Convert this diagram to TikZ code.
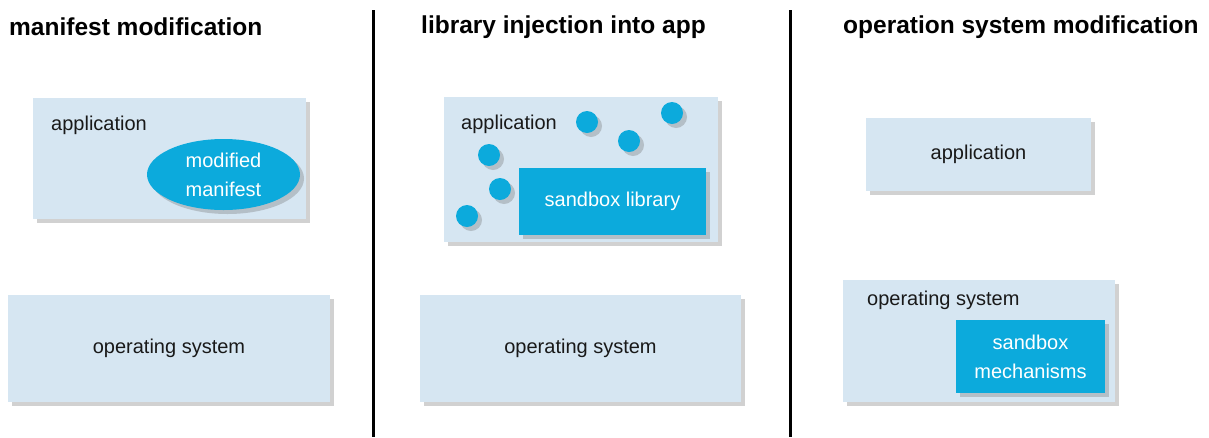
\documentclass[tikz,border=0pt]{standalone}
\usepackage{fontspec}
\setmainfont{Liberation Sans}
\usetikzlibrary{shapes.geometric,shadows}
\definecolor{boxbg}{RGB}{214,230,242}
\definecolor{cyanbox}{RGB}{12,170,220}
\tikzset{
  sh/.style={drop shadow={shadow xshift=4pt,shadow yshift=-4pt,opacity=0.3,fill=black!60}},
  lbox/.style={rectangle,fill=boxbg,draw=none,inner sep=0pt,sh},
  cbox/.style={rectangle,fill=cyanbox,draw=none,inner sep=0pt,text=white,align=center,font=\fontsize{20}{29}\selectfont,sh},
  cell/.style={ellipse,fill=cyanbox,draw=none,inner sep=0pt,text=white,align=center,font=\fontsize{20}{29}\selectfont,sh},
  dot/.style={circle,fill=cyanbox,draw=none,inner sep=0pt,minimum size=22pt,sh},
  txt/.style={font=\fontsize{20}{24}\selectfont,inner sep=0pt,text=black!90},
  ttl/.style={font=\bfseries\fontsize{24.5}{28}\selectfont,inner sep=0pt,anchor=west},
  divider/.style={line width=3pt,black}
}
\begin{document}
\begin{tikzpicture}[x=1pt,y=-1pt]
\useasboundingbox (0,0) rectangle (1209,437);
% titles
\node[ttl] (t1) at (9,27) {manifest modification};
\node[ttl] (t2) at (421,27) {library injection into app};
\node[ttl] (t3) at (843,27) {operation system modification};
% dividers
\draw[divider] (373,10) -- (373,437);
\draw[divider] (790,10) -- (790,437);
% panel 1
\node[lbox,minimum width=273pt,minimum height=121pt] (app1) at (169.5,158.5) {};
\node[txt,anchor=west] (app1t) at (51,125) {application};
\node[cell,minimum width=153pt,minimum height=71pt] (mm) at (223.5,174.5) {modified\\manifest};
\node[lbox,minimum width=322pt,minimum height=107pt] (os1) at (169,348.5) {};
\node[txt] (os1t) at (os1.center) {operating system};
% panel 2
\node[lbox,minimum width=274pt,minimum height=145pt] (app2) at (581,169.5) {};
\node[txt,anchor=west] (app2t) at (461,124) {application};
\node[dot] (d1) at (587,122) {};
\node[dot] (d2) at (672,113) {};
\node[dot] (d3) at (629,141) {};
\node[dot] (d4) at (489,155) {};
\node[dot] (d5) at (500,189) {};
\node[dot] (d6) at (467,216) {};
\node[cbox,minimum width=187pt,minimum height=67pt] (sl) at (612.5,201.5) {sandbox library};
\node[lbox,minimum width=321pt,minimum height=107pt] (os2) at (580.5,348.5) {};
\node[txt] (os2t) at (os2.center) {operating system};
% panel 3
\node[lbox,minimum width=225pt,minimum height=73pt] (app3) at (978.5,154.5) {};
\node[txt] (app3t) at (app3.center) {application};
\node[lbox,minimum width=272pt,minimum height=122pt] (os3) at (979,341) {};
\node[txt,anchor=west] (os3t) at (867,300) {operating system};
\node[cbox,minimum width=149pt,minimum height=73pt] (sm) at (1030.5,356.5) {sandbox\\mechanisms};
\end{tikzpicture}
\end{document}
